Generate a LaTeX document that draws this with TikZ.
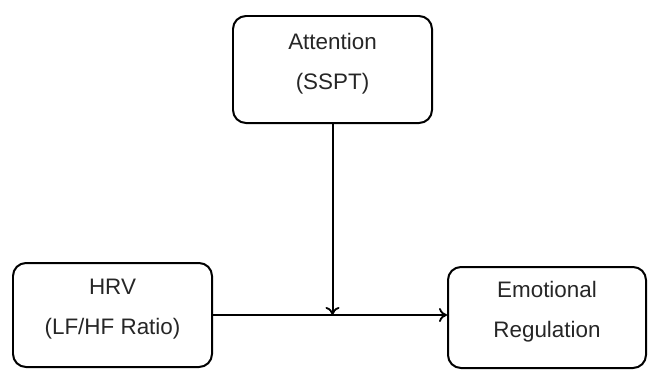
\documentclass[tikz,border=0pt]{standalone}
\usepackage{fontspec}
\setmainfont{Liberation Sans}
\usetikzlibrary{arrows.meta,positioning}

\begin{document}
\begin{tikzpicture}[x=1bp,y=-1bp,font=\fontsize{22.5}{40}\selectfont,
  varbox/.style={draw,line width=2pt,rounded corners=13bp,align=center,
    text=black!85,text depth=17bp},
  link/.style={line width=2pt,-{To[length=8bp,width=14bp,line width=1.8pt]}}]
  \useasboundingbox (0,0) rectangle (649,370);
  % the three measures
  \node[varbox,minimum width=199bp,minimum height=107bp] (att) at (332.5,69.5)
    {Attention\\(SSPT)};
  \node[varbox,minimum width=199bp,minimum height=104bp] (hrv) at (112.5,315)
    {HRV\\(LF/HF Ratio)};
  \node[varbox,minimum width=198bp,minimum height=101bp] (er) at (547,317.5)
    {Emotional\\Regulation};
  % paths
  \coordinate (mid) at (att.south |- hrv.east);
  \draw[link] (hrv.east) -- (hrv.east -| er.west);
  \draw[link] (att.south) -- (mid);
\end{tikzpicture}
\end{document}
